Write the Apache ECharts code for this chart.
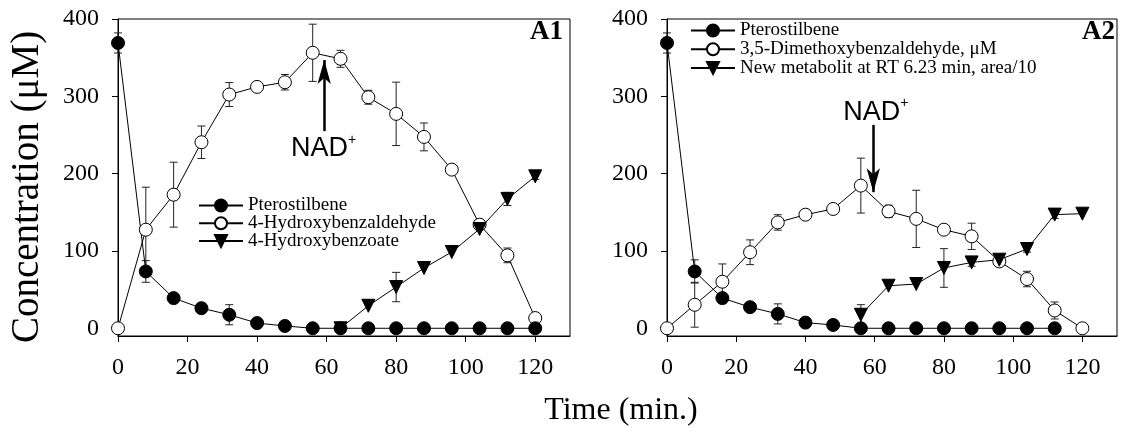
<html>
<head>
<meta charset="utf-8">
<script src="https://cdn.jsdelivr.net/npm/echarts@6.0.0/dist/echarts.min.js"></script>
</head>
<body>
<style>
    html, body, #main {
        width: 100%;
        height: 100%;
        margin: 0;
        background: #fff;
    }
</style>
<div id='main'></div>
<script>
// sampling times (min.)
var times = [0, 8, 16, 24, 32, 40, 48, 56, 64, 72, 80, 88, 96, 104, 112, 120];
var xTicks = [0, 20, 40, 60, 80, 100, 120];
var yTicks = [0, 100, 200, 300, 400];

// panel A1
var pteroA1    = [369, 73.5, 39, 26, 17.5, 6.7, 3, 0, 0, 0, 0, 0, 0, 0, 0, 0];
var pteroA1Err = [13, 14, 0, 0, 13, 0, 0, 0, 0, 0, 0, 0, 0, 0, 0, 0];
var aldA1      = [0, 127.5, 172.8, 240.6, 302.3, 312.2, 318.2, 356.3, 348.5, 298.8, 277.3, 247.5, 205.2, 134, 94.3, 13.2];
var aldA1Err   = [0, 55, 42, 21, 15.5, 0, 10, 37, 11, 9, 41, 18, 0, 0, 9.5, 0];
var acidA1     = [null, null, null, null, null, null, null, null, 0, 29.1, 53.3, 77.9, 98.7, 128.4, 167.3, 196.5];
var acidA1Err  = [0, 0, 0, 0, 0, 0, 0, 0, 0, 0, 19, 0, 0, 0, 8.5, 4];

// panel A2
var pteroA2    = [369, 73.5, 39, 27.3, 18.6, 7.3, 4.3, 0, 0, 0, 0, 0, 0, 0, 0, null];
var pteroA2Err = [13, 15, 0, 0, 13, 0, 0, 0, 0, 0, 0, 0, 0, 0, 0, 0];
var aldA2      = [0, 30.4, 60.2, 98.3, 136.9, 146.9, 154.3, 184.5, 151.2, 141.5, 127.5, 118.9, 86.5, 63.7, 23, 0];
var aldA2Err   = [0, 29, 23, 16, 10, 0, 6, 35.5, 8, 37, 0, 17, 0, 10, 11, 0];
var metA2      = [null, null, null, null, null, null, null, 17.5, 55, 57.2, 78, 85.2, 88.7, 102.5, 147, 148.2];
var metA2Err   = [0, 0, 0, 0, 0, 0, 0, 13, 0, 0, 25, 5, 0, 4, 5, 0];

var namesA1 = ['Pterostilbene', '4-Hydroxybenzaldehyde', '4-Hydroxybenzoate'];
var namesA2 = ['Pterostilbene', '3,5-Dimethoxybenzaldehyde, \u03bcM', 'New metabolit at RT 6.23 min, area/10'];

var serif = '"Liberation Serif", "Times New Roman", serif';
var sans = '"Liberation Sans", Arial, sans-serif';

var chart = echarts.init(document.getElementById('main'));

function pairs(vals) {
    var out = [];
    for (var i = 0; i < times.length; i++) {
        if (vals[i] != null) out.push([times[i], vals[i]]);
    }
    return out;
}

function errData(vals, errs) {
    var out = [];
    for (var i = 0; i < times.length; i++) {
        if (vals[i] != null && errs[i] > 0) out.push([times[i], vals[i], errs[i]]);
    }
    return out;
}

function errRender(params, api) {
    var x = api.value(0), y = api.value(1), e = api.value(2);
    var lo = api.coord([x, y - e]), hi = api.coord([x, y + e]);
    var w = 4;
    var st = {stroke: '#222', lineWidth: 1};
    return {type: 'group', children: [
        {type: 'line', shape: {x1: lo[0], y1: lo[1], x2: hi[0], y2: hi[1]}, style: st},
        {type: 'line', shape: {x1: hi[0] - w, y1: hi[1], x2: hi[0] + w, y2: hi[1]}, style: st},
        {type: 'line', shape: {x1: lo[0] - w, y1: lo[1], x2: lo[0] + w, y2: lo[1]}, style: st}
    ]};
}

function errSeries(ax, vals, errs) {
    return {
        type: 'custom', xAxisIndex: ax, yAxisIndex: ax, z: 1,
        renderItem: errRender, encode: {x: 0, y: 1},
        data: errData(vals, errs), silent: true, animation: false
    };
}

function lineSeries(ax, name, vals, kind) {
    return {
        type: 'line', name: name, xAxisIndex: ax, yAxisIndex: ax, z: 3,
        data: pairs(vals),
        symbol: kind === 'tri' ? 'triangle' : 'circle',
        symbolRotate: kind === 'tri' ? 180 : 0,
        symbolSize: 13,
        showSymbol: true,
        lineStyle: {color: '#000', width: 1},
        itemStyle: {color: kind === 'open' ? '#fff' : '#000', borderColor: '#000', borderWidth: 1},
        emphasis: {disabled: true},
        animation: false
    };
}

function nadMarks(series, x, from, to, labelPos) {
    series.markLine = {
        silent: true, animation: false,
        symbol: ['none', 'arrow'],
        lineStyle: {color: '#000', width: 2.5, type: 'solid'},
        label: {show: false},
        emphasis: {disabled: true},
        data: [[
            {coord: [x, from], symbol: 'none'},
            {coord: [x, to], symbol: 'arrow', symbolSize: [10, 24]}
        ]]
    };
    series.markPoint = {
        silent: true, animation: false,
        symbol: 'circle', symbolSize: 1,
        itemStyle: {color: 'rgba(0,0,0,0)'},
        label: {
            show: true, position: 'inside',
            formatter: '{n|NAD}{s|+}',
            rich: {
                n: {fontFamily: sans, fontSize: 27, lineHeight: 32, color: '#000'},
                s: {fontFamily: sans, fontSize: 14, lineHeight: 14, color: '#000', verticalAlign: 'top', padding: [0, 0, 18, 0]}
            }
        },
        data: [{coord: labelPos}]
    };
    return series;
}

function xAxis(ax) {
    return {
        type: 'value', gridIndex: ax, min: 0, max: 130,
        axisLine: {onZero: false, lineStyle: {color: '#000', width: 1}},
        axisTick: {length: 6, customValues: xTicks, lineStyle: {color: '#000'}},
        axisLabel: {customValues: xTicks, fontFamily: serif, fontSize: 24, color: '#000', margin: 20},
        splitLine: {show: false}
    };
}

function yAxis(ax) {
    return {
        type: 'value', gridIndex: ax, min: -10, max: 400,
        axisLine: {show: true, onZero: false, lineStyle: {color: '#000', width: 1}},
        axisTick: {show: true, length: 6, customValues: yTicks, lineStyle: {color: '#000'}},
        axisLabel: {customValues: yTicks, fontFamily: serif, fontSize: 24, color: '#000', margin: 19},
        splitLine: {show: false}
    };
}

function legend(names, left, top, gap) {
    return {
        data: names, left: left, top: top, orient: 'vertical', padding: 0,
        itemWidth: 44, itemHeight: 15, itemGap: gap,
        selectedMode: false,
        textStyle: {fontFamily: serif, fontSize: 19, lineHeight: 17, color: '#000'}
    };
}

var option = {
    backgroundColor: '#fff',
    animation: false,
    grid: [
        {left: 118, top: 19, width: 452, height: 317, show: true, borderColor: '#000', borderWidth: 1},
        {left: 667, top: 19, width: 450, height: 317, show: true, borderColor: '#000', borderWidth: 1}
    ],
    xAxis: [xAxis(0), xAxis(1)],
    yAxis: [yAxis(0), yAxis(1)],
    legend: [
        legend(namesA1, 198, 196, -1.2),
        legend(namesA2, 690, 21, -0.3)
    ],
    title: [
        {text: 'A1', right: 559, top: 19, padding: 0,
         textStyle: {fontFamily: serif, fontSize: 27, fontWeight: 'bold', color: '#000'}},
        {text: 'A2', right: 7, top: 19, padding: 0,
         textStyle: {fontFamily: serif, fontSize: 27, fontWeight: 'bold', color: '#000'}}
    ],
    graphic: [
        {type: 'text', x: 28, y: 187, rotation: Math.PI / 2,
         style: {text: 'Concentration (\u03bcM)', fontFamily: serif, fontSize: 39, fill: '#000',
                 align: 'center', verticalAlign: 'middle'}},
        {type: 'text', x: 621, y: 411,
         style: {text: 'Time (min.)', fontFamily: serif, fontSize: 32, fill: '#000',
                 align: 'center', verticalAlign: 'middle'}}
    ],
    series: [
        errSeries(0, pteroA1, pteroA1Err),
        errSeries(0, aldA1, aldA1Err),
        errSeries(0, acidA1, acidA1Err),
        nadMarks(lineSeries(0, namesA1[1], aldA1, 'open'), 59.3, 255, 347, [59.1, 232]),
        lineSeries(0, namesA1[2], acidA1, 'tri'),
        lineSeries(0, namesA1[0], pteroA1, 'filled'),

        errSeries(1, pteroA2, pteroA2Err),
        errSeries(1, aldA2, aldA2Err),
        errSeries(1, metA2, metA2Err),
        lineSeries(1, namesA2[0], pteroA2, 'filled'),
        nadMarks(lineSeries(1, namesA2[1], aldA2, 'open'), 59.6, 263, 176, [60.3, 279.5]),
        lineSeries(1, namesA2[2], metA2, 'tri')
    ]
};
chart.setOption(option);
</script>
</body>
</html>
